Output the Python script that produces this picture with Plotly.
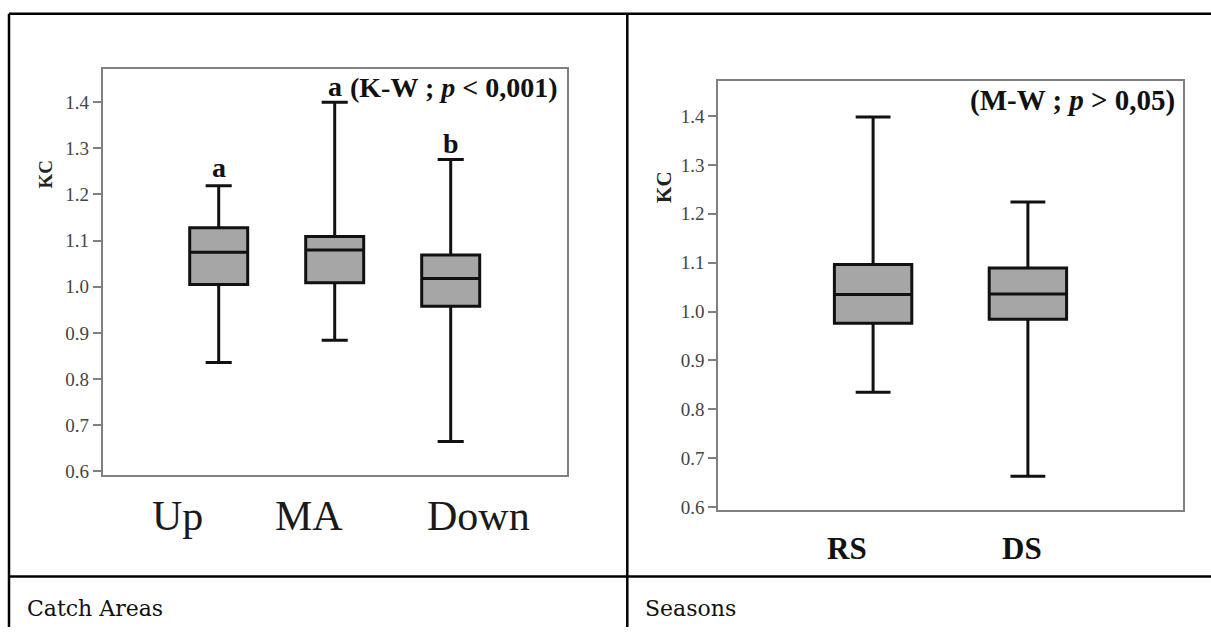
import plotly.graph_objects as go

W, H = 1211, 634

# ---------------- data ----------------
area_cats = ["Up", "MA", "Down"]
area_upper = [1.219, 1.400, 1.276]
area_q3 = [1.128, 1.109, 1.069]
area_median = [1.075, 1.080, 1.018]
area_q1 = [1.005, 1.009, 0.958]
area_lower = [0.836, 0.884, 0.665]
area_letters = ["a", "a", "b"]

season_cats = ["RS", "DS"]
season_upper = [1.398, 1.224]
season_q3 = [1.096, 1.089]
season_median = [1.035, 1.036]
season_q1 = [0.976, 0.984]
season_lower = [0.835, 0.663]

y_ticks = [0.6, 0.7, 0.8, 0.9, 1.0, 1.1, 1.2, 1.3, 1.4]
y_title = "KC"
area_test = "(K-W ; <i>p</i> < 0,001)"
season_test = "(M-W ; <i>p</i> > 0,05)"
captions = ["Catch Areas", "Seasons"]


def px(x):
    return x / W


def py(y):
    return 1 - y / H


SERIF = "Liberation Serif, Times New Roman, serif"
FRAME = "#808080"

fig = go.Figure()

box_style = dict(
    fillcolor="#a6a6a6",
    line=dict(color="#111111", width=3),
    whiskerwidth=0.45,
    width=0.5,
    boxpoints=False,
    hoverinfo="skip",
    showlegend=False,
)

fig.add_trace(go.Box(
    x=area_cats, q1=area_q1, median=area_median, q3=area_q3,
    lowerfence=area_lower, upperfence=area_upper,
    xaxis="x", yaxis="y", **box_style))

fig.add_trace(go.Box(
    x=season_cats, q1=season_q1, median=season_median, q3=season_q3,
    lowerfence=season_lower, upperfence=season_upper,
    xaxis="x2", yaxis="y2", **box_style))

axis_common = dict(
    showline=True, mirror=True, linecolor=FRAME, linewidth=2,
    showgrid=False, zeroline=False,
)
yaxis_common = dict(
    axis_common,
    tickvals=y_ticks, tickformat=".1f",
    ticks="outside", ticklen=8, tickwidth=2, tickcolor=FRAME,
    tickfont=dict(family=SERIF, size=19, color="#444444"),
)

fig.update_layout(
    width=W, height=H,
    margin=dict(l=0, r=0, t=0, b=0),
    paper_bgcolor="white", plot_bgcolor="white",
    xaxis=dict(axis_common, type="category", range=[-1, 3],
               domain=[px(102.7), px(566.7)], anchor="y",
               showticklabels=False, ticks=""),
    yaxis=dict(yaxis_common, range=[0.593, 1.4713],
               domain=[py(480), py(70)], anchor="x"),
    xaxis2=dict(axis_common, type="category", range=[-1, 2],
                domain=[px(718.3), px(1182.7)], anchor="y2",
                showticklabels=False, ticks=""),
    yaxis2=dict(yaxis_common, range=[0.5933, 1.472],
                domain=[py(516), py(81.7)], anchor="x2"),
)

ann = []
# category labels (shifted like the original artwork)
area_label_shift = [-41, -26, 28]
for c, s in zip(area_cats, area_label_shift):
    ann.append(dict(x=c, xref="x", y=py(522), yref="paper", text=c,
                    showarrow=False, xshift=s, xanchor="center", yanchor="middle",
                    font=dict(family=SERIF, size=42, color="#1a1a1a")))
season_label_shift = [-26, -6]
for c, s in zip(season_cats, season_label_shift):
    ann.append(dict(x=c, xref="x2", y=py(555), yref="paper", text="<b>" + c + "</b>",
                    showarrow=False, xshift=s, xanchor="center", yanchor="middle",
                    font=dict(family=SERIF, size=31, color="#111111")))

# significance letters above whiskers
letter_shift = [18, 16, 16]
for c, u, l, s in zip(area_cats, area_upper, area_letters, letter_shift):
    ann.append(dict(x=c, xref="x", y=u, yref="y", text="<b>" + l + "</b>",
                    showarrow=False, yshift=s, xanchor="center", yanchor="middle",
                    font=dict(family=SERIF, size=28, color="#111111")))

# test annotations
ann.append(dict(x=1, xref="x domain", y=1, yref="y domain", text="<b>" + area_test + "</b>",
                showarrow=False, xshift=-7, yshift=-18, xanchor="right", yanchor="middle",
                font=dict(family=SERIF, size=28, color="#111111")))
ann.append(dict(x=1, xref="x2 domain", y=1, yref="y2 domain", text="<b>" + season_test + "</b>",
                showarrow=False, xshift=-6, yshift=-20, xanchor="right", yanchor="middle",
                font=dict(family=SERIF, size=29, color="#111111")))

# y titles
ann.append(dict(x=px(45.5), xref="paper", y=py(176), yref="paper", text="<b>" + y_title + "</b>",
                showarrow=False, textangle=-90, xanchor="center", yanchor="middle",
                font=dict(family=SERIF, size=19, color="#222222")))
ann.append(dict(x=px(664), xref="paper", y=py(189), yref="paper", text="<b>" + y_title + "</b>",
                showarrow=False, textangle=-90, xanchor="center", yanchor="middle",
                font=dict(family=SERIF, size=21, color="#222222")))

# captions
ann.append(dict(x=px(25), xref="paper", y=py(615), yref="paper", text=captions[0],
                showarrow=False, xanchor="left", yanchor="middle",
                font=dict(family="DejaVu Serif, serif", size=22, color="#111111")))
ann.append(dict(x=px(642.7), xref="paper", y=py(615), yref="paper", text=captions[1],
                showarrow=False, xanchor="left", yanchor="middle",
                font=dict(family="DejaVu Serif, serif", size=22, color="#111111")))

fig.update_layout(annotations=ann)

# table rules
line = dict(color="black", width=2.5)
shapes = [
    dict(type="line", xref="paper", yref="paper", x0=px(9), x1=1, y0=py(14), y1=py(14), line=line),
    dict(type="line", xref="paper", yref="paper", x0=px(9), x1=1, y0=py(583), y1=py(583), line=line),
    dict(type="line", xref="paper", yref="paper", x0=px(9), x1=px(9), y0=py(14), y1=0, line=line),
    dict(type="line", xref="paper", yref="paper", x0=px(627.3), x1=px(627.3), y0=py(14), y1=0, line=line),
]
fig.update_layout(shapes=shapes)

fig.write_html("out.html")
